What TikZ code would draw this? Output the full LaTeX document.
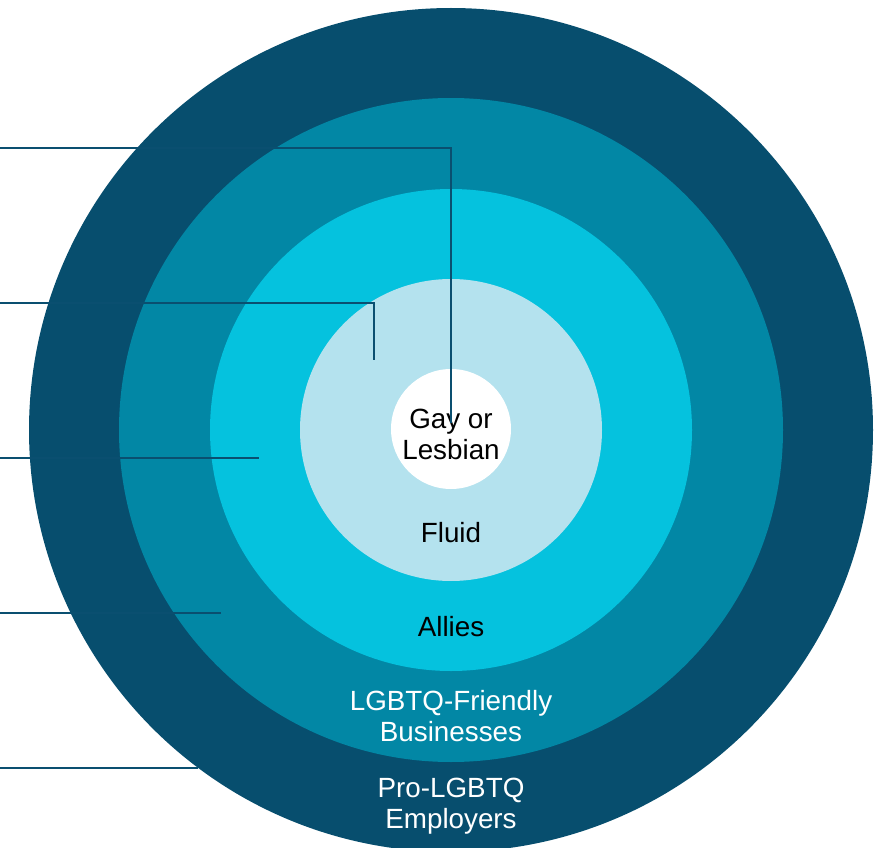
\documentclass[tikz,border=0pt]{standalone}
\usepackage{fontspec}
\setmainfont{Liberation Sans}
\usepackage{xcolor}
\usepackage{tikz}
\usetikzlibrary{positioning}

\definecolor{ringA}{HTML}{074E6E}
\definecolor{ringB}{HTML}{0287A5}
\definecolor{ringC}{HTML}{05C2DE}
\definecolor{ringD}{HTML}{B4E2EE}
\definecolor{leader}{HTML}{0A4F70}

\begin{document}
\begin{tikzpicture}[x=1pt, y=-1pt,
  ring/.style={circle, inner sep=0pt, draw=none},
  lbl/.style={align=center, font=\fontsize{27.8}{31}\selectfont},
  link/.style={draw=leader, line width=2.3}]

\useasboundingbox (0,0) rectangle (887,848);

% rings %
\node[ring, fill=ringA, minimum size=844] (emp) at (451,430) {};
\node[ring, fill=ringB, minimum size=664] (biz) at (451,430) {};
\node[ring, fill=ringC, minimum size=482] (ally) at (451,430) {};
\node[ring, fill=ringD, minimum size=302] (fluid) at (451,430) {};
\node[ring, fill=white, minimum size=120] (core) at (451,429) {};

% labels %
\node[lbl] (corel) at (451,434) {Gay or\\Lesbian};
\node[lbl] (fluidl) at (451,533) {Fluid};
\node[lbl] (allyl) at (451,627) {Allies};
\node[lbl, text=white] (bizl) at (451,716) {LGBTQ-Friendly\\Businesses};
\node[lbl, text=white] (empl) at (451,806) {Pro-LGBTQ\\Employers};

% edges %
\coordinate (s1) at (0,148);
\coordinate (e1) at (451,423);
\coordinate (s2) at (0,303);
\coordinate (e2) at (374,360);
\coordinate (s3) at (0,458);
\coordinate (e3) at (259,458);
\coordinate (s4) at (0,613);
\coordinate (e4) at (221,613);
\coordinate (s5) at (0,768);
\coordinate (e5) at (198,768);

\draw[link] (s1) -| (e1);
\draw[link] (s2) -| (e2);
\draw[link] (s3) -- (e3);
\draw[link] (s4) -- (e4);
\draw[link] (s5) -- (e5);

\end{tikzpicture}
\end{document}
